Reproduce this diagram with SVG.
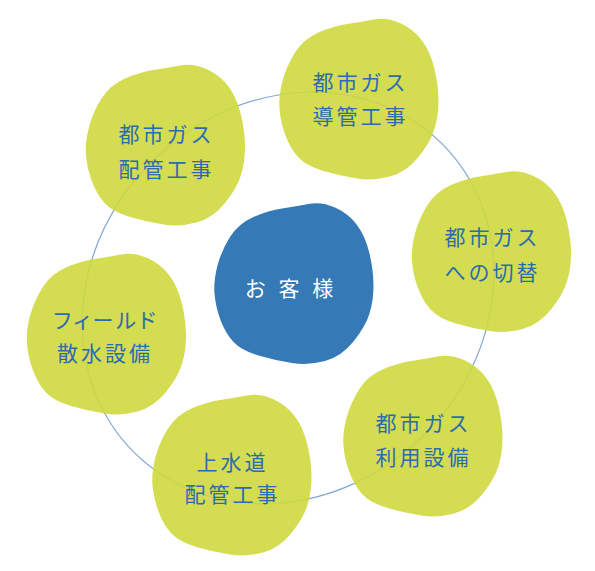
<svg xmlns="http://www.w3.org/2000/svg" xmlns:xlink="http://www.w3.org/1999/xlink" width="595" height="571" viewBox="0 0 595 571">
<defs>
<path id="blob" d="M 41.5,-76 Q 55,-70 63.5,-58.5 Q 72,-47 76,-30 Q 80,-13 80,2 Q 80,17 76,30 Q 72,43 60,58 Q 48,73 31.5,77.5 Q 15,82 -1.5,79.5 Q -18,77 -35,72 Q -52,67 -60,58.5 Q -68,50 -73,36.5 Q -78,23 -79,10 Q -80,-3 -76,-18 Q -72,-33 -63.5,-46.5 Q -55,-60 -40,-66.5 Q -25,-73 -11.5,-75 Q 2,-77 15,-79.5 Q 28,-82 41.5,-76 Z"/>
</defs>
<style>
.ring{fill:none;stroke:#7fa6d6;stroke-width:1.2}
.leaf{fill:#cfd83f;fill-opacity:0.9}
.core{fill:#3579b7}
.t{font-family:"Noto Sans CJK JP","Noto Sans",sans-serif;font-size:21px;fill:#2b6cb0;text-anchor:middle;dominant-baseline:central;letter-spacing:3px}
.w{font-family:"Noto Sans CJK JP","Noto Sans",sans-serif;font-size:21px;fill:#ffffff;text-anchor:middle;dominant-baseline:central;letter-spacing:4px}
</style>
<rect width="595" height="571" fill="#ffffff"/>
<g id="connectors">
<ellipse class="ring" cx="288" cy="298" rx="218" ry="193" transform="rotate(-45 288 298)"/>
</g>
<g id="node-top">
<use xlink:href="#blob" href="#blob" class="leaf" transform="translate(358.5 99)"/>
<text class="t" x="360.5" y="81">都市ガス</text>
<text class="t" x="360.5" y="115">導管工事</text>
</g>
<g id="node-topleft">
<use xlink:href="#blob" href="#blob" class="leaf" transform="translate(165 145)"/>
<text class="t" x="166.5" y="133">都市ガス</text>
<text class="t" x="166.5" y="167.5">配管工事</text>
</g>
<g id="node-right">
<use xlink:href="#blob" href="#blob" class="leaf" transform="translate(491 251.5)"/>
<text class="t" x="492.5" y="236">都市ガス</text>
<text class="t" x="492.5" y="271">への切替</text>
</g>
<g id="node-left">
<use xlink:href="#blob" href="#blob" class="leaf" transform="translate(106 334)"/>
<text class="t" x="106" y="318.5" style="font-feature-settings:'palt'">フィールド</text>
<text class="t" x="105" y="352">散水設備</text>
</g>
<g id="node-bottom">
<use xlink:href="#blob" href="#blob" class="leaf" transform="translate(231.5 475)"/>
<text class="t" x="232.5" y="460.5">上水道</text>
<text class="t" x="232.5" y="493">配管工事</text>
</g>
<g id="node-bottomright">
<use xlink:href="#blob" href="#blob" class="leaf" transform="translate(422.5 436)"/>
<text class="t" x="423.5" y="421.5">都市ガス</text>
<text class="t" x="423.5" y="455.5">利用設備</text>
</g>
<g id="node-center">
<use xlink:href="#blob" href="#blob" class="core" transform="translate(293.5 283.5)"/>
<text class="w" x="291" y="287">お 客 様</text>
</g>
</svg>
